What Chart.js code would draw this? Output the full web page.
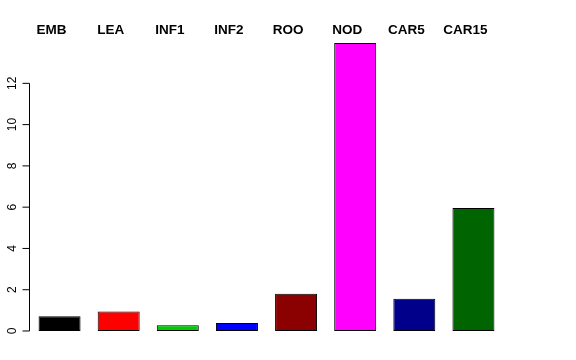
<!DOCTYPE html>
<html>
<head>
<meta charset="utf-8">
<script src="https://cdn.jsdelivr.net/npm/chart.js@4"></script>
<style>
  html, body { margin: 0; padding: 0; background: #fff; }
  #wrap { width: 576px; height: 360px; }
</style>
</head>
<body>
<div id="wrap"><canvas id="myChart" width="576" height="360"></canvas></div>
<script>
// Datos del gráfico
const categorias = ['EMB', 'LEA', 'INF1', 'INF2', 'ROO', 'NOD', 'CAR5', 'CAR15'];
const valores = [0.71, 0.95, 0.28, 0.39, 1.81, 13.95, 1.56, 5.96];
const colores = ['#000000', '#FF0000', '#00CD00', '#0000FF', '#8B0000', '#FF00FF', '#00008B', '#006400'];
const ticksY = [0, 2, 4, 6, 8, 10, 12];

// Eje Y estilo R: linea, marcas y etiquetas giradas
const ejeR = {
    id: 'ejeR',
    afterDraw(chart) {
        const y = chart.scales.y;
        const c = chart.ctx;
        const x0 = 29.5;
        c.save();
        c.strokeStyle = '#000';
        c.lineWidth = 1;
        c.beginPath();
        c.moveTo(x0, y.getPixelForValue(ticksY[0]));
        c.lineTo(x0, y.getPixelForValue(ticksY[ticksY.length - 1]));
        ticksY.forEach(t => {
            const py = y.getPixelForValue(t);
            c.moveTo(x0, py);
            c.lineTo(x0 - 7, py);
        });
        c.stroke();
        c.fillStyle = '#000';
        c.font = '12px "Liberation Sans", Arial, sans-serif';
        c.textAlign = 'center';
        c.textBaseline = 'alphabetic';
        ticksY.forEach(t => {
            const py = y.getPixelForValue(t);
            c.save();
            c.translate(15.5, py);
            c.rotate(-Math.PI / 2);
            c.fillText(String(t), 0, 0);
            c.restore();
        });
        c.restore();
    }
};

const ctx = document.getElementById('myChart').getContext('2d');

const myChart = new Chart(ctx, {
    type: 'bar',
    data: {
        labels: categorias,
        datasets: [{
            data: valores,
            backgroundColor: colores,
            borderColor: '#000',
            borderWidth: 1,
            borderSkipped: false,
            categoryPercentage: 1,
            barPercentage: 0.71
        }]
    },
    options: {
        responsive: false,
        animation: false,
        layout: {
            padding: { left: 30, right: 73, top: 18, bottom: 18 }
        },
        plugins: {
            legend: { display: false },
            tooltip: { enabled: false }
        },
        scales: {
            x: {
                position: 'top',
                grid: { display: false, drawTicks: false },
                border: { display: false },
                afterFit: (scale) => { scale.height = 22; },
                ticks: {
                    color: '#000',
                    padding: 1.5,
                    labelOffset: -8,
                    font: { family: '"Liberation Sans", Arial, sans-serif', size: 13.5, weight: 'bold' }
                }
            },
            y: {
                display: false,
                min: -0.533,
                max: 14.1
            }
        }
    },
    plugins: [ejeR]
});
</script>
</body>
</html>
